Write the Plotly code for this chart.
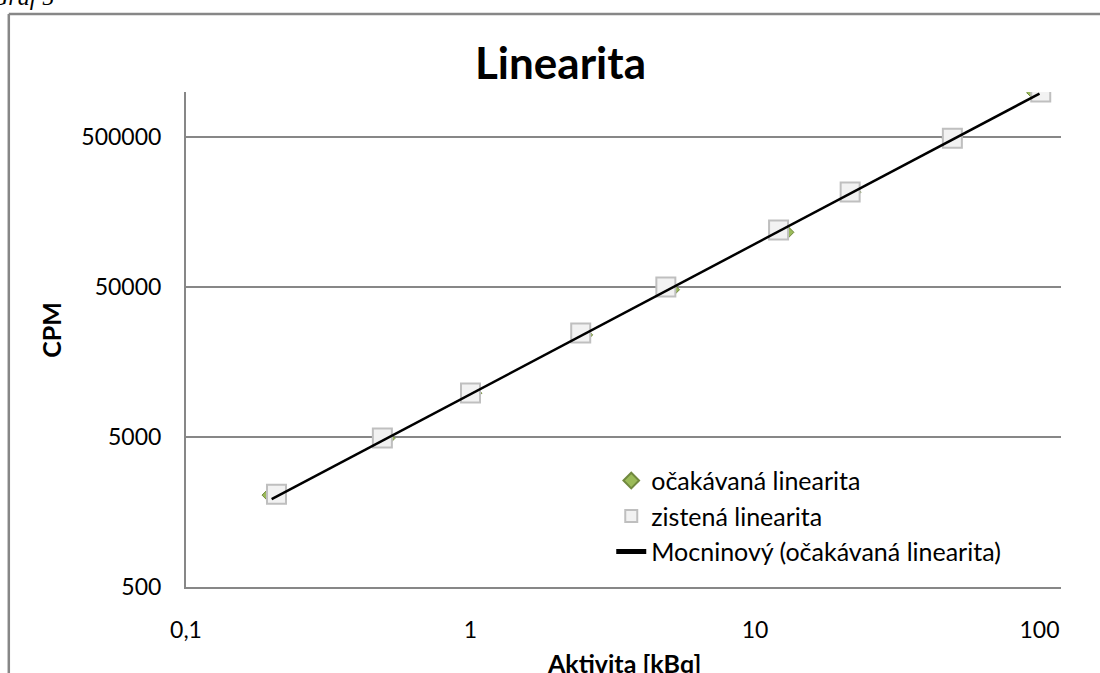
import numpy as np
import plotly.graph_objects as go

# očakávaná linearita (expected)
x_exp = [0.195, 0.515, 1.04, 2.55, 5.15, 13.0, 22.4, 48.0, 95.0]
y_exp = [2050, 4900, 9800, 24000, 48000, 116000, 215000, 490000, 990000]

# zistená linearita (measured)
x_obs = [0.208, 0.49, 1.0, 2.44, 4.86, 12.1, 21.6, 49.4, 101.0]
y_obs = [2080, 4920, 9820, 24700, 50000, 120000, 215000, 492000, 1000000]

# trendline span
trend_span = [0.2, 100]

x_ticks = [0.1, 1, 10, 100]
x_ticktext = ["0,1", "1", "10", "100"]
y_ticks = [500, 5000, 50000, 500000]
y_ticktext = ["500", "5000", "50000", "500000"]

# power trendline fit (y = a * x^b) on expected data
b, loga = np.polyfit(np.log10(x_exp), np.log10(y_exp), 1)
xt = np.geomspace(trend_span[0], trend_span[1], 60)
yt = 10 ** loga * xt ** b

FONT = "Lato"
GRAY = "#878787"

fig = go.Figure()
fig.add_trace(go.Scatter(
    x=x_exp, y=y_exp, mode="markers", name="očakávaná linearita",
    legendgroup="a",
    marker=dict(symbol="diamond", size=10, color="#9bbb59",
                line=dict(color="#71893f", width=1)),
))
fig.add_trace(go.Scatter(
    x=x_obs, y=y_obs, mode="markers", name="zistená linearita",
    legendgroup="b",
    marker=dict(symbol="square", size=19, color="#f2f2f2",
                line=dict(color="#bfbfbf", width=2)),
))
fig.add_trace(go.Scatter(
    x=xt, y=yt, mode="lines", name="Mocninový (očakávaná linearita)",
    legendgroup="c",
    line=dict(color="black", width=2.5),
))

fig.update_layout(
    width=1100, height=673,
    margin=dict(l=186, r=39, t=92, b=86),
    paper_bgcolor="white", plot_bgcolor="white",
    font=dict(family=FONT, size=23, color="black"),
    showlegend=True,
    legend=dict(x=0.486, y=0.261, xanchor="left", yanchor="top",
                bgcolor="rgba(0,0,0,0)", font=dict(size=25),
                tracegroupgap=0, itemsizing="constant"),
    xaxis=dict(type="log", range=[-1, np.log10(119)],
               tickvals=x_ticks, ticktext=x_ticktext,
               showgrid=False, zeroline=False,
               showline=True, linecolor=GRAY, linewidth=2,
               ticks="outside", ticklen=21, tickcolor="rgba(0,0,0,0)",
               tickfont=dict(size=23)),
    yaxis=dict(type="log", range=[np.log10(500), 6.0],
               tickvals=y_ticks, ticktext=y_ticktext,
               showgrid=True, gridcolor=GRAY, gridwidth=2,
               zeroline=False,
               showline=True, linecolor=GRAY, linewidth=2,
               ticks="outside", ticklen=18, tickcolor="rgba(0,0,0,0)",
               tickfont=dict(size=23)),
    annotations=[
        dict(text="<b>Linearita</b>", x=(560 - 186) / 874, y=(587 - 62) / 495,
             xref="paper", yref="paper", showarrow=False,
             xanchor="center", yanchor="middle",
             font=dict(size=44, family=FONT)),
        dict(text="<b>Aktivita [kBq]</b>", x=0.5, y=(587 - 663) / 495,
             xref="paper", yref="paper", showarrow=False,
             xanchor="center", yanchor="middle",
             font=dict(size=25, family=FONT)),
        dict(text="<b>CPM</b>", x=(51 - 186) / 874, y=(587 - 330) / 495,
             xref="paper", yref="paper", showarrow=False, textangle=-90,
             xanchor="center", yanchor="middle",
             font=dict(size=25, family=FONT)),
        dict(text="Graf 5", x=(56 - 186) / 874, y=(587 - 12) / 495,
             xref="paper", yref="paper", showarrow=False,
             xanchor="right", yanchor="bottom",
             font=dict(size=24, family="Liberation Serif", style="italic")),
    ],
    shapes=[
        dict(type="line", xref="paper", yref="paper",
             x0=(9 - 186) / 874, x1=(9 - 186) / 874,
             y0=(587 - 700) / 495, y1=(587 - 14) / 495,
             line=dict(color=GRAY, width=2.5)),
        dict(type="line", xref="paper", yref="paper",
             x0=(9 - 186) / 874, x1=(1120 - 186) / 874,
             y0=(587 - 14) / 495, y1=(587 - 14) / 495,
             line=dict(color=GRAY, width=2.5)),
    ],
)

fig.write_html("out.html",
               config={"displayModeBar": False},
               post_script="document.body.style.margin='0';"
                           "document.body.style.overflow='hidden';")
